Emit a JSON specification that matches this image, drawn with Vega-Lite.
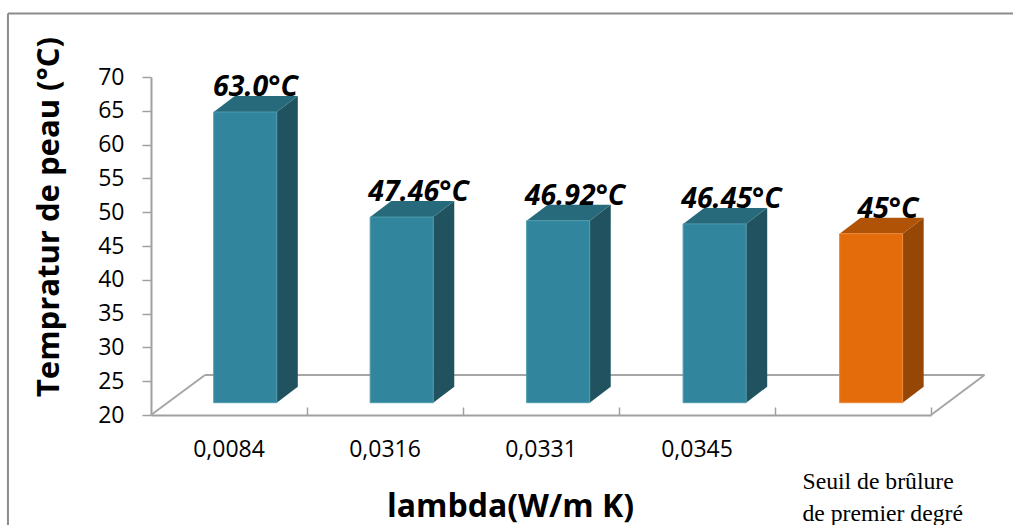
{
  "$schema": "https://vega.github.io/schema/vega-lite/v6.json",
  "width": 780,
  "height": 338,
  "autosize": {"type": "none"},
  "padding": {"left": 151, "top": 77, "right": 82, "bottom": 110},
  "background": "white",
  "config": {"view": {"stroke": null}, "font": "Open Sans"},
  "data": {
    "values": [
      {"rang": 0, "lambda": "0,0084", "temperature": 63.0, "etiquette": "63.0°C", "seuil": false},
      {"rang": 1, "lambda": "0,0316", "temperature": 47.46, "etiquette": "47.46°C", "seuil": false},
      {"rang": 2, "lambda": "0,0331", "temperature": 46.92, "etiquette": "46.92°C", "seuil": false},
      {"rang": 3, "lambda": "0,0345", "temperature": 46.45, "etiquette": "46.45°C", "seuil": false},
      {"rang": 4, "lambda": "Seuil de brûlure\nde premier degré", "temperature": 45, "etiquette": "45°C", "seuil": true}
    ]
  },
  "transform": [
    {"calculate": "datum.rang * 1.003 + 0.402", "as": "gauche"},
    {"calculate": "datum.gauche + 0.404", "as": "droite"}
  ],
  "layer": [
    {
      "data": {"values": [{}]},
      "mark": {"type": "rule", "color": "#a6a6a6", "strokeWidth": 2},
      "encoding": {
        "x": {
          "datum": 0.346, "type": "quantitative",
          "scale": {"domain": [0, 5], "nice": false, "zero": false},
          "axis": {
            "values": [1, 2, 3, 4, 5],
            "labels": false, "grid": false,
            "domainColor": "#a0a0a0", "domainWidth": 2,
            "tickColor": "#a0a0a0", "tickWidth": 1.5, "tickSize": -8,
            "title": "lambda(W/m K)",
            "titleFont": "Open Sans", "titleFontSize": 32, "titleFontWeight": "bold", "titleColor": "#000000",
            "titleX": 359, "titleY": 101, "titleBaseline": "alphabetic", "titleAnchor": "middle", "titleAlign": "center"
          }
        },
        "x2": {"datum": 5.343},
        "y": {
          "datum": 25.91, "type": "quantitative",
          "scale": {"domain": [20, 70], "nice": false, "zero": false},
          "axis": {
            "values": [20, 25, 30, 35, 40, 45, 50, 55, 60, 65, 70],
            "tickCount": 11,
            "grid": false,
            "domainColor": "#a0a0a0", "domainWidth": 2,
            "tickColor": "#a0a0a0", "tickWidth": 1.5, "tickSize": 9,
            "labelFont": "Open Sans", "labelFontSize": 23, "labelColor": "#000000", "labelPadding": 18, "labelOverlap": false,
            "title": "Tempratur de peau (°C)",
            "titleFont": "Open Sans", "titleFontSize": 31, "titleFontWeight": "bold", "titleColor": "#000000",
            "titleX": -93, "titleY": 139.5, "titleBaseline": "alphabetic", "titleAnchor": "middle", "titleAlign": "center", "titleAngle": -90
          }
        },
        "y2": {"datum": 25.91}
      }
    },
    {
      "data": {"values": [{}]},
      "mark": {"type": "rule", "color": "#a6a6a6", "strokeWidth": 2},
      "encoding": {
        "x": {"datum": 0, "type": "quantitative", "scale": {"domain": [0, 5], "nice": false, "zero": false}},
        "x2": {"datum": 0.346},
        "y": {"datum": 20, "type": "quantitative", "scale": {"domain": [20, 70], "nice": false, "zero": false}},
        "y2": {"datum": 25.91}
      }
    },
    {
      "data": {"values": [{}]},
      "mark": {"type": "rule", "color": "#a6a6a6", "strokeWidth": 2},
      "encoding": {
        "x": {"datum": 5, "type": "quantitative", "scale": {"domain": [0, 5], "nice": false, "zero": false}},
        "x2": {"datum": 5.343},
        "y": {"datum": 20, "type": "quantitative", "scale": {"domain": [20, 70], "nice": false, "zero": false}},
        "y2": {"datum": 25.91}
      }
    },
    {
      "data": {"values": [{}]},
      "mark": {"type": "rule", "color": "#8c8c8c", "strokeWidth": 2, "clip": false},
      "encoding": {
        "x": {"datum": -0.917, "type": "quantitative", "scale": {"domain": [0, 5], "nice": false, "zero": false}},
        "y": {"datum": 79.4, "type": "quantitative", "scale": {"domain": [20, 70], "nice": false, "zero": false}},
        "y2": {"datum": 3.7}
      }
    },
    {
      "data": {"values": [{}]},
      "mark": {"type": "rule", "color": "#8c8c8c", "strokeWidth": 2, "clip": false},
      "encoding": {
        "x": {"datum": -0.917, "type": "quantitative", "scale": {"domain": [0, 5], "nice": false, "zero": false}},
        "x2": {"datum": 5.53},
        "y": {"datum": 79.4, "type": "quantitative", "scale": {"domain": [20, 70], "nice": false, "zero": false}}
      }
    },
    {
      "transform": [
        {"calculate": "[0, 1]", "as": "bout"},
        {"flatten": ["bout"]},
        {"calculate": "datum.droite + datum.bout * 0.135", "as": "xCote"},
        {"calculate": "datum.temperature + datum.bout * 2.37", "as": "yCote"},
        {"calculate": "20 + datum.bout * 2.37", "as": "basCote"}
      ],
      "mark": {"type": "area", "orient": "vertical", "yOffset": -12.3, "y2Offset": -12.3},
      "encoding": {
        "x": {"field": "xCote", "type": "quantitative", "scale": {"domain": [0, 5], "nice": false, "zero": false}},
        "y": {"field": "yCote", "type": "quantitative", "scale": {"domain": [20, 70], "nice": false, "zero": false}, "stack": null},
        "y2": {"field": "basCote"},
        "detail": {"field": "rang"},
        "color": {"condition": {"test": "datum.seuil", "value": "#964706"}, "value": "#20535f"}
      }
    },
    {
      "transform": [
        {"calculate": "[0, 1]", "as": "bout"},
        {"flatten": ["bout"]},
        {"calculate": "datum.gauche + datum.bout * 0.135", "as": "xDebut"},
        {"calculate": "datum.droite + datum.bout * 0.135", "as": "xFin"},
        {"calculate": "datum.temperature + datum.bout * 2.37", "as": "yDessus"}
      ],
      "mark": {"type": "area", "orient": "horizontal", "yOffset": -12.3},
      "encoding": {
        "x": {"field": "xDebut", "type": "quantitative", "scale": {"domain": [0, 5], "nice": false, "zero": false}, "stack": null},
        "x2": {"field": "xFin"},
        "y": {"field": "yDessus", "type": "quantitative", "scale": {"domain": [20, 70], "nice": false, "zero": false}},
        "detail": {"field": "rang"},
        "color": {"condition": {"test": "datum.seuil", "value": "#b05306"}, "value": "#266a7b"}
      }
    },
    {
      "mark": {"type": "rect", "yOffset": -12.3, "y2Offset": -12.3, "strokeWidth": 1},
      "encoding": {
        "x": {"field": "gauche", "type": "quantitative", "scale": {"domain": [0, 5], "nice": false, "zero": false}},
        "x2": {"field": "droite"},
        "y": {"field": "temperature", "type": "quantitative", "scale": {"domain": [20, 70], "nice": false, "zero": false}},
        "y2": {"datum": 20},
        "color": {"condition": {"test": "datum.seuil", "value": "#e46c0a"}, "value": "#31859c"},
        "stroke": {"condition": {"test": "datum.seuil", "value": "#ee8a3a"}, "value": "#4f9aae"}
      }
    },
    {
      "transform": [
        {"calculate": "datum.rang == 0 ? datum.gauche + 0.268 : datum.gauche + 0.31", "as": "xEtiquette"},
        {"calculate": "datum.temperature + 2.37", "as": "yEtiquette"}
      ],
      "mark": {"type": "text", "font": "Open Sans", "fontSize": 28.5, "fontWeight": "bold", "fontStyle": "italic", "color": "#000000", "baseline": "alphabetic", "align": "center", "dy": -12.3},
      "encoding": {
        "x": {"field": "xEtiquette", "type": "quantitative", "scale": {"domain": [0, 5], "nice": false, "zero": false}},
        "y": {"field": "yEtiquette", "type": "quantitative", "scale": {"domain": [20, 70], "nice": false, "zero": false}},
        "text": {"field": "etiquette"}
      }
    },
    {
      "transform": [
        {"filter": "!datum.seuil"},
        {"calculate": "datum.rang + 0.5", "as": "xLambda"}
      ],
      "mark": {"type": "text", "font": "Open Sans", "fontSize": 23, "color": "#000000", "baseline": "alphabetic", "align": "center", "dy": 42},
      "encoding": {
        "x": {"field": "xLambda", "type": "quantitative", "scale": {"domain": [0, 5], "nice": false, "zero": false}},
        "y": {"datum": 20, "type": "quantitative", "scale": {"domain": [20, 70], "nice": false, "zero": false}},
        "text": {"field": "lambda"}
      }
    },
    {
      "transform": [
        {"filter": "datum.seuil"},
        {"calculate": "datum.rang + 0.176", "as": "xNote"}
      ],
      "mark": {"type": "text", "font": "Liberation Serif", "fontSize": 23.7, "color": "#000000", "baseline": "alphabetic", "align": "left", "dy": 74, "lineBreak": "\n", "lineHeight": 31.5},
      "encoding": {
        "x": {"field": "xNote", "type": "quantitative", "scale": {"domain": [0, 5], "nice": false, "zero": false}},
        "y": {"datum": 20, "type": "quantitative", "scale": {"domain": [20, 70], "nice": false, "zero": false}},
        "text": {"field": "lambda"}
      }
    }
  ]
}
